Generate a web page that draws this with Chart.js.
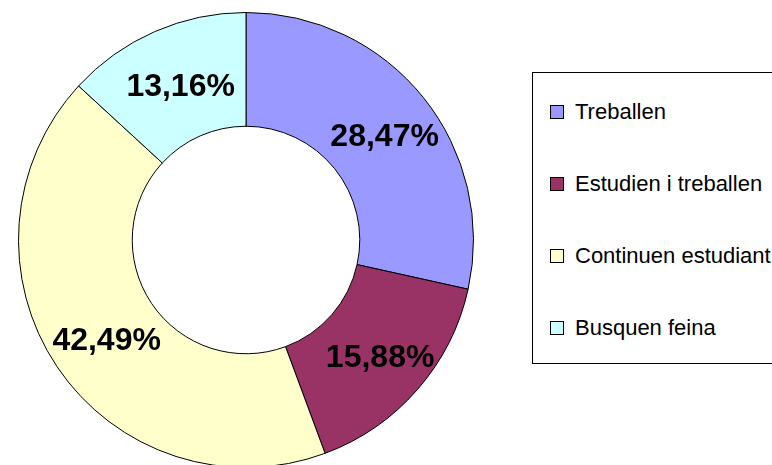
<!DOCTYPE html>
<html>
<head>
<meta charset="utf-8">
<script src="https://cdn.jsdelivr.net/npm/chart.js@4"></script>
<style>
  html, body { margin: 0; padding: 0; background: #fff; }
  #wrap { position: relative; width: 772px; height: 465px; overflow: hidden; }
  #chart { position: absolute; left: 0; top: 0; }
  #legend {
    position: absolute; left: 532px; top: 72px; width: 250px; height: 292px;
    border: 1px solid #000; box-sizing: border-box; background: #fff;
    font-family: "Liberation Sans", Arial, sans-serif; font-size: 22px; color: #000;
  }
  .item { position: absolute; left: 17px; height: 24px; line-height: 24px; white-space: nowrap; }
  .box { position: absolute; left: 0; top: 5px; width: 12px; height: 12px; border: 1px solid #000; }
  .txt { position: absolute; left: 25px; top: 0; }
</style>
</head>
<body>
<div id="wrap">
  <canvas id="chart" width="772" height="480"></canvas>
  <div id="legend"></div>
</div>
<script>
// Data
const labels = ["Treballen", "Estudien i treballen", "Continuen estudiant", "Busquen feina"]
const values = [28.47, 15.88, 42.49, 13.16]
const colors = ["#9999FF", "#993366", "#FFFFCC", "#CCFFFF"]

// Percent labels drawn on each slice
const sliceLabels = {
  id: "sliceLabels",
  afterDatasetsDraw: (chart) => {
    const ctx = chart.ctx
    const meta = chart.getDatasetMeta(0)
    ctx.save()
    ctx.font = "bold 32px 'Liberation Sans', Arial, sans-serif"
    ctx.fillStyle = "#000"
    ctx.textAlign = "center"
    ctx.textBaseline = "middle"
    meta.data.forEach((arc, i) => {
      const p = arc.getProps(["x", "y", "startAngle", "endAngle", "innerRadius", "outerRadius"], true)
      const mid = (p.startAngle + p.endAngle) / 2
      const r = (p.innerRadius + p.outerRadius) / 2 + 2
      const text = values[i].toFixed(2).replace(".", ",") + "%"
      // small nudge to sit like the original labels
      ctx.fillText(text, p.x + Math.cos(mid) * r + 4, p.y + Math.sin(mid) * r + 5)
    })
    ctx.restore()
  },
}

new Chart(document.getElementById("chart"), {
  type: "doughnut",
  data: {
    labels: labels,
    datasets: [
      {
        data: values,
        backgroundColor: colors,
        borderColor: "#000",
        borderWidth: 1,
      },
    ],
  },
  options: {
    responsive: false,
    devicePixelRatio: 1,
    animation: false,
    cutout: "50%",
    events: [],
    layout: {
      padding: { left: 18, top: 12, right: 298, bottom: 12 },
    },
    plugins: {
      legend: { display: false },
      tooltip: { enabled: false },
    },
  },
  plugins: [sliceLabels],
})

// Legend as HTML, built from the same arrays
const legend = document.getElementById("legend")
labels.forEach((name, i) => {
  const item = document.createElement("div")
  item.className = "item"
  item.style.top = 27 + i * 72 + "px"
  const box = document.createElement("span")
  box.className = "box"
  box.style.background = colors[i]
  const txt = document.createElement("span")
  txt.className = "txt"
  txt.textContent = name
  item.appendChild(box)
  item.appendChild(txt)
  legend.appendChild(item)
})
</script>
</body>
</html>
